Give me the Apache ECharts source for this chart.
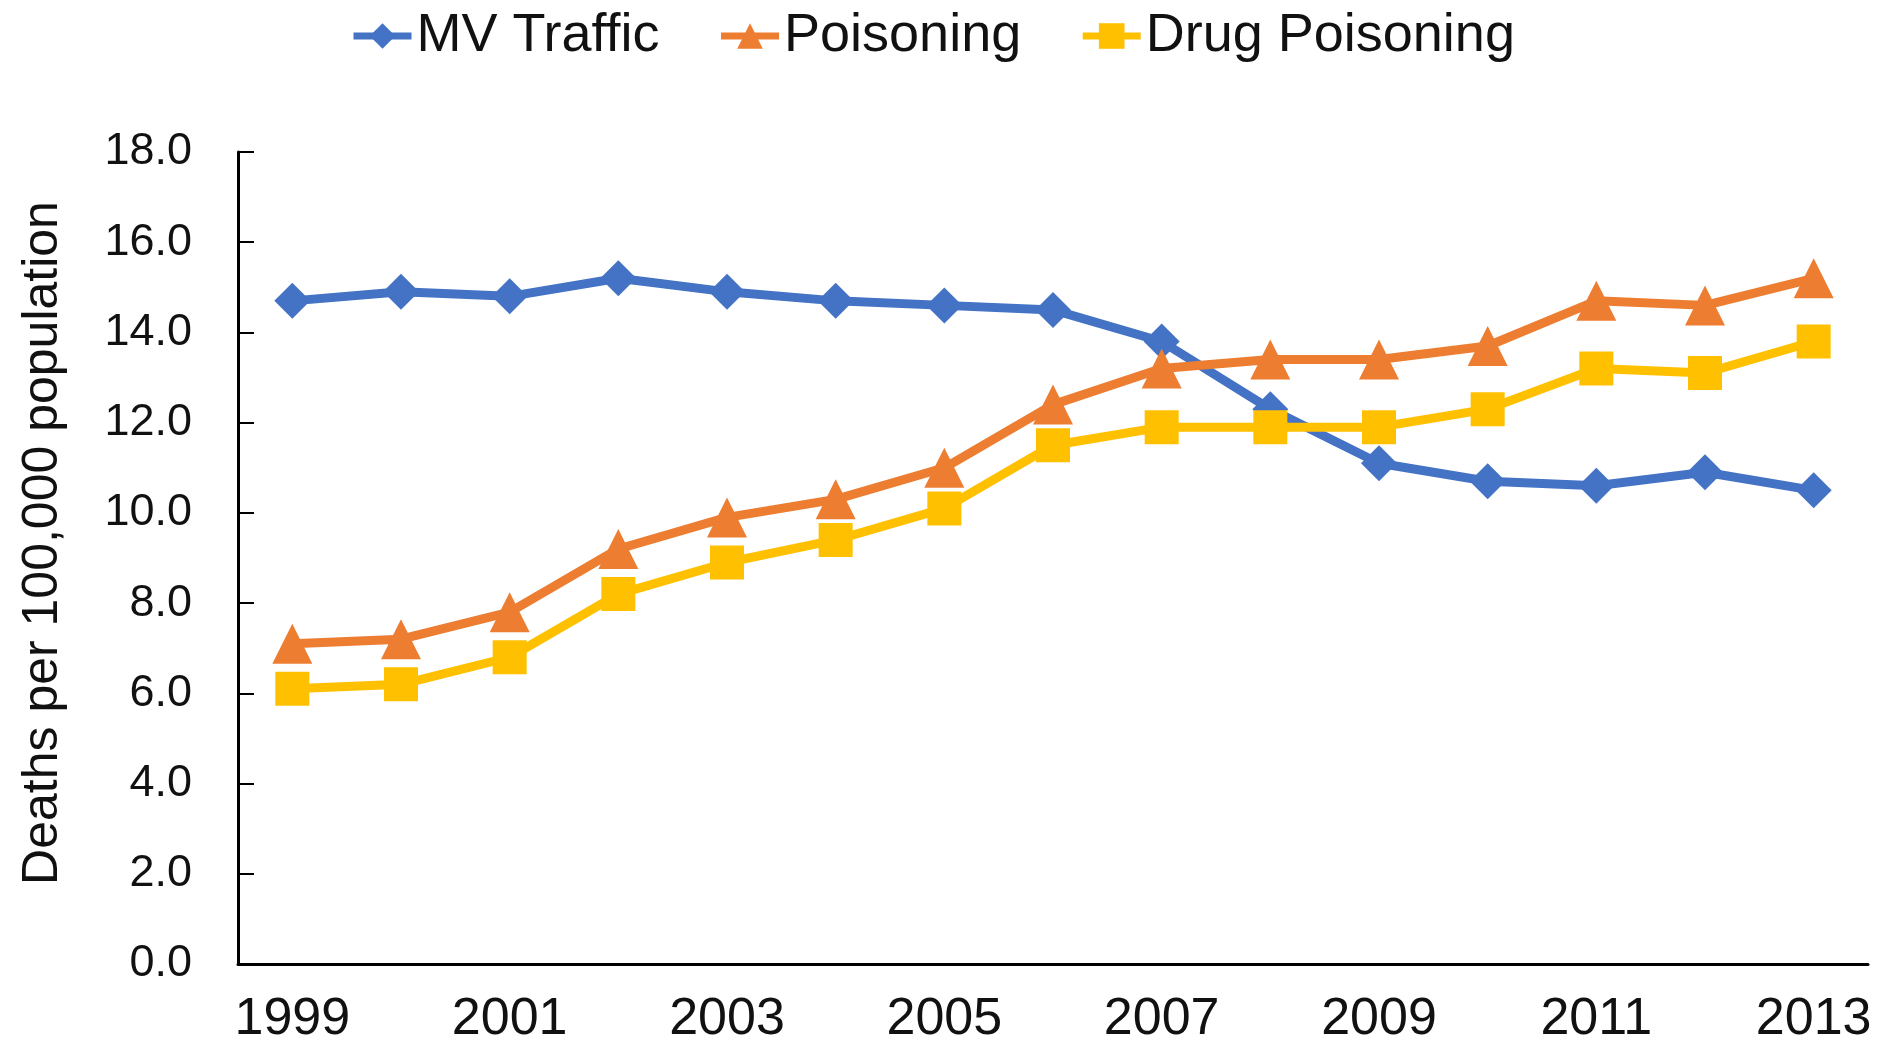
<!DOCTYPE html>
<html lang="en">
    <head>
        <meta charset="UTF-8"/>
        <script src="https://cdn.jsdelivr.net/npm/echarts@6/dist/echarts.min.js"></script>
        <title>Deaths per 100,000 population</title>
        <style>
            html, body { margin: 0; padding: 0; background: #fff; }
        </style>
    </head>
    <body>
        <div id="main" style="width: 1893px;height:1050px;"></div>
        <script type="text/javascript">

            // data
            var years = ['1999', '2000', '2001', '2002', '2003', '2004', '2005', '2006',
                         '2007', '2008', '2009', '2010', '2011', '2012', '2013'];
            var mvTraffic = [14.7, 14.9, 14.8, 15.2, 14.9, 14.7, 14.6, 14.5, 13.8, 12.3, 11.1, 10.7, 10.6, 10.9, 10.5];
            var poisoning = [7.1, 7.2, 7.8, 9.2, 9.9, 10.3, 11.0, 12.4, 13.2, 13.4, 13.4, 13.7, 14.7, 14.6, 15.2];
            var drugPoisoning = [6.1, 6.2, 6.8, 8.2, 8.9, 9.4, 10.1, 11.5, 11.9, 11.9, 11.9, 12.3, 13.2, 13.1, 13.8];

            var font = '"Liberation Sans", Arial, sans-serif';
            var textColor = '#111';

            var myChart = echarts.init(document.getElementById('main'));

            var option = {
                backgroundColor: '#fff',
                animation: false,
                textStyle: { fontFamily: font },

                legend: {
                    top: 4,
                    left: 345,
                    itemWidth: 58,
                    itemHeight: 32,
                    itemGap: 58,
                    lineStyle: { width: 7 },
                    textStyle: { fontSize: 54, color: textColor, fontFamily: font }
                },

                grid: {
                    left: 238,
                    right: 25,
                    top: 152,
                    bottom: 86
                },

                xAxis: {
                    type: 'category',
                    data: years,
                    boundaryGap: true,
                    axisLine: { lineStyle: { color: '#000', width: 3 } },
                    axisTick: {
                        inside: true,
                        alignWithLabel: true,
                        interval: 0,
                        length: 12,
                        lineStyle: { color: '#000', width: 2 }
                    },
                    axisLabel: {
                        interval: 1,
                        fontSize: 52,
                        color: textColor,
                        margin: 30
                    }
                },

                yAxis: {
                    type: 'value',
                    min: 0,
                    max: 18,
                    interval: 2,
                    name: 'Deaths per 100,000 population',
                    nameLocation: 'middle',
                    nameGap: 170,
                    nameTextStyle: { fontSize: 50, color: textColor, padding: [0, 0, 0, 30] },
                    axisLine: { show: true, lineStyle: { color: '#000', width: 3 } },
                    axisTick: {
                        show: true,
                        inside: true,
                        length: 16,
                        lineStyle: { color: '#000', width: 2 }
                    },
                    splitLine: { show: false },
                    axisLabel: {
                        fontSize: 45,
                        color: textColor,
                        margin: 46,
                        formatter: function (v) { return v.toFixed(1); }
                    }
                },

                series: [
                    {
                        name: 'MV Traffic',
                        type: 'line',
                        data: mvTraffic,
                        symbol: 'diamond',
                        symbolSize: 36,
                        lineStyle: { color: '#4472C4', width: 9 },
                        itemStyle: { color: '#4472C4' }
                    },
                    {
                        name: 'Poisoning',
                        type: 'line',
                        data: poisoning,
                        symbol: 'triangle',
                        symbolSize: 40,
                        lineStyle: { color: '#ED7D31', width: 9 },
                        itemStyle: { color: '#ED7D31' }
                    },
                    {
                        name: 'Drug Poisoning',
                        type: 'line',
                        data: drugPoisoning,
                        symbol: 'rect',
                        symbolSize: 34,
                        lineStyle: { color: '#FFC000', width: 9 },
                        itemStyle: { color: '#FFC000' }
                    }
                ]
            };

            myChart.setOption(option);

        </script>
    </body>
</html>
